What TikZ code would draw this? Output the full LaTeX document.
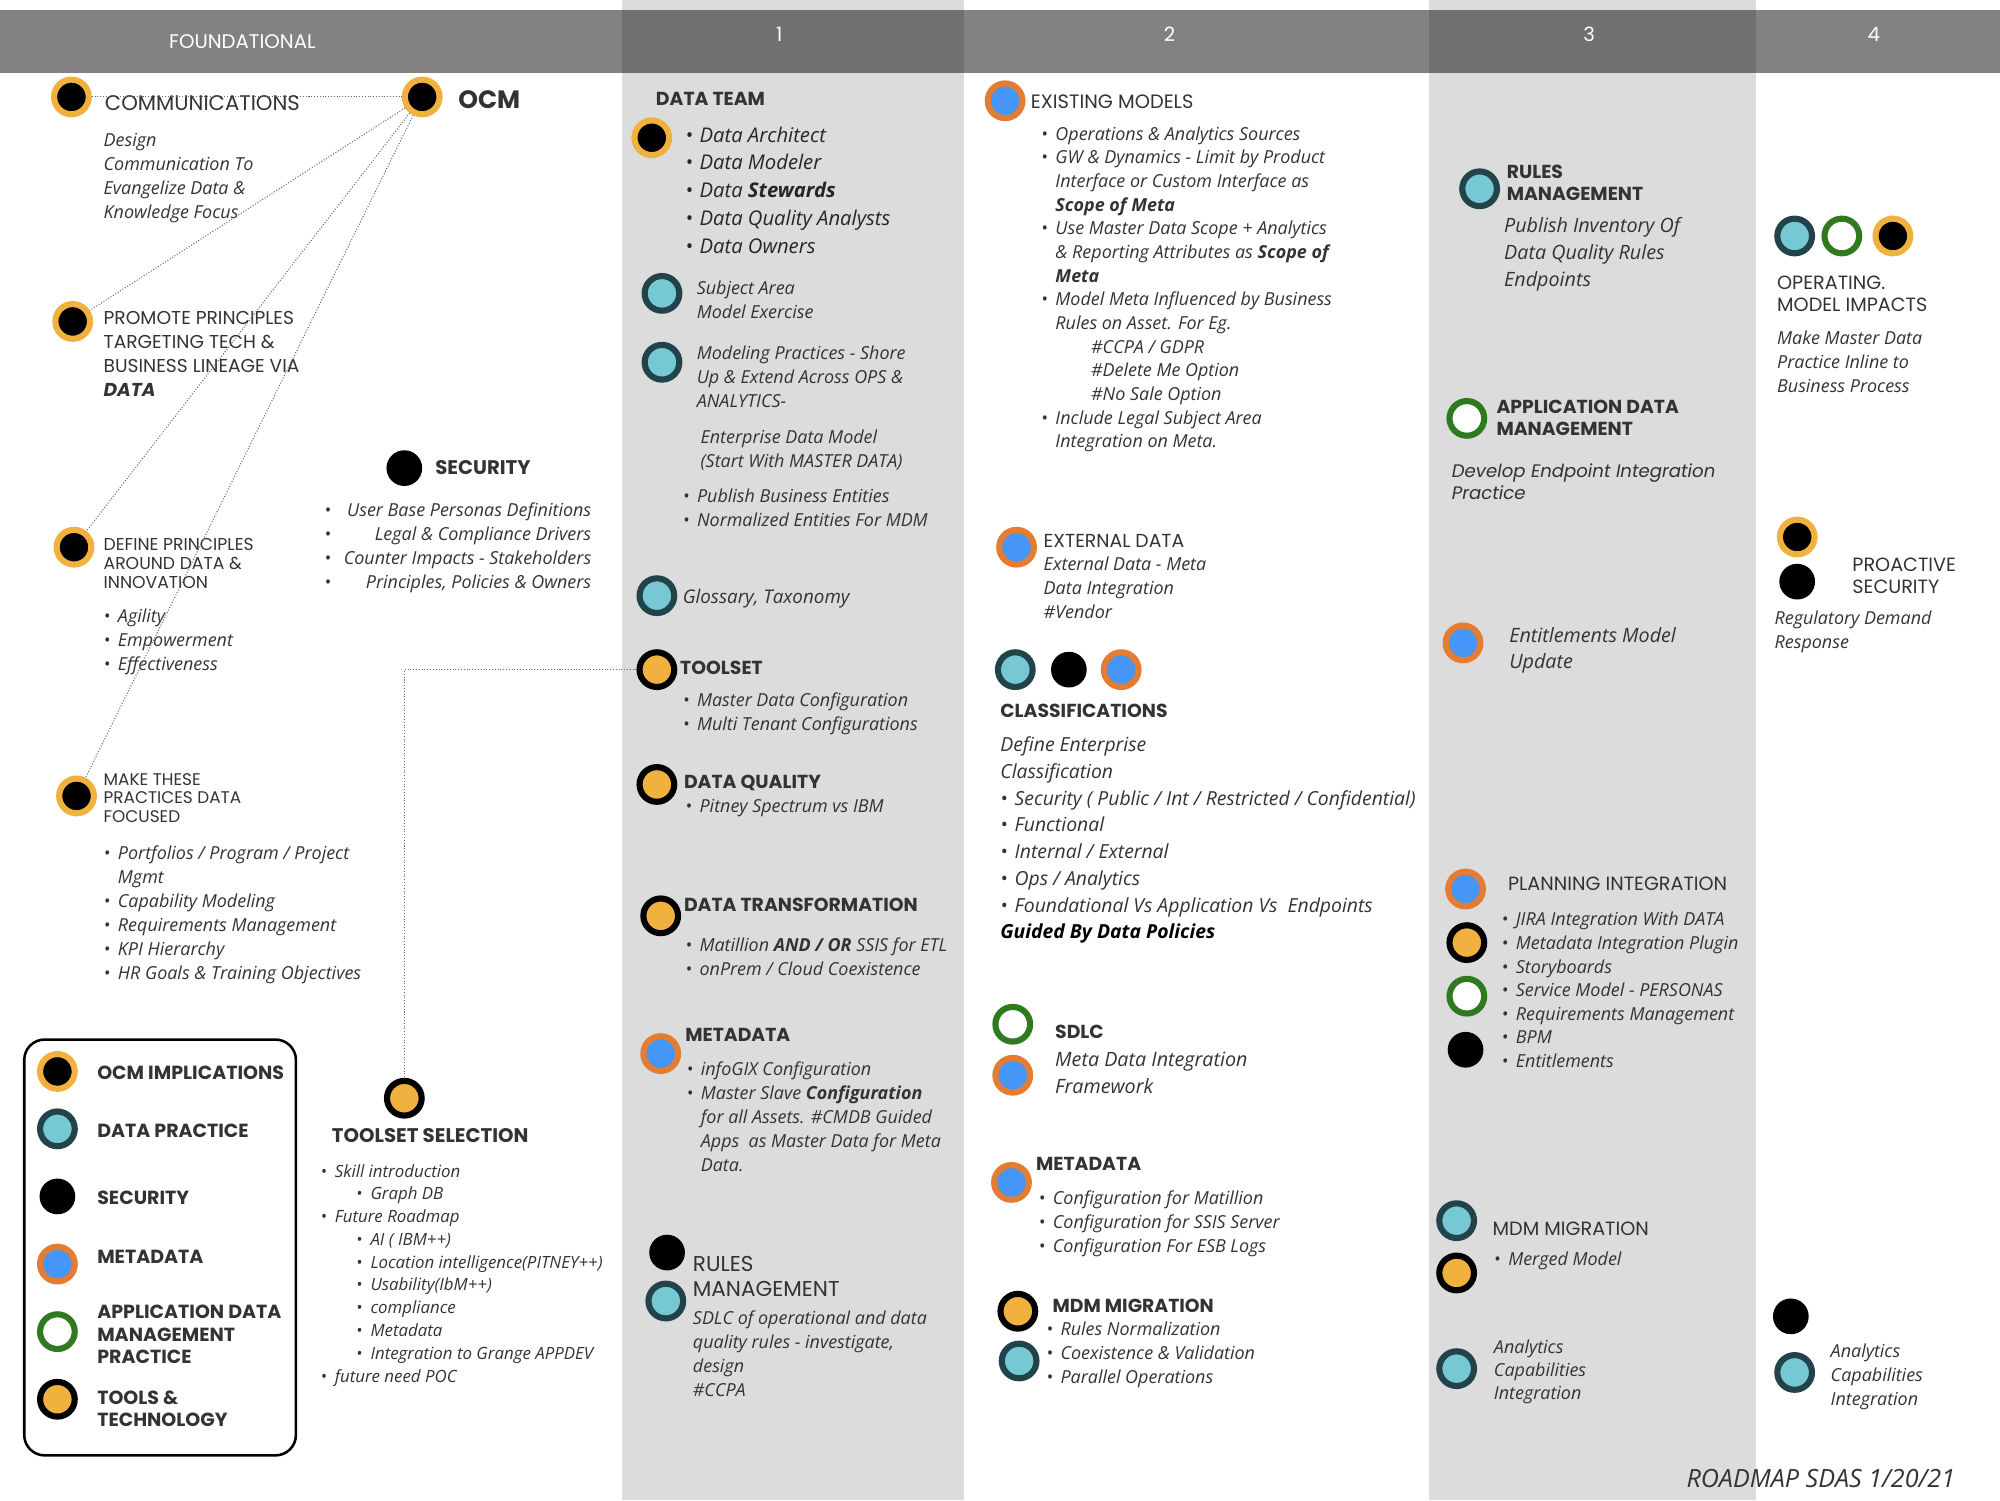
\documentclass[tikz,border=0pt]{standalone}
\usepackage{fontspec}
\setmainfont{Open Sans}
\newfontfamily\mont{Poppins}
\definecolor{txt}{HTML}{333333}
\definecolor{colbg}{HTML}{DCDCDC}
\definecolor{ocmring}{HTML}{F0B13F}
\definecolor{pracfill}{HTML}{76C8D3}
\definecolor{pracring}{HTML}{22434A}
\definecolor{metafill}{HTML}{4596F6}
\definecolor{metaring}{HTML}{E47D32}
\definecolor{appring}{HTML}{2F7A1F}
\definecolor{toolfill}{HTML}{F0B13F}
\newcommand\bul{\makebox[2.8mm][l]{\textbullet}}
\newcommand\indt{\hspace*{2.8mm}}
\begin{document}
\begin{tikzpicture}[x=0.25mm, y=-0.25mm,
  dot/.style={circle, minimum size=6.8mm, inner sep=0pt, line width=1.2mm},
  ocmdot/.style={dot, fill=black, draw=ocmring},
  pracdot/.style={dot, fill=pracfill, draw=pracring},
  secdot/.style={circle, minimum size=7mm, inner sep=0pt, fill=black},
  metadot/.style={dot, fill=metafill, draw=metaring},
  appdot/.style={dot, fill=white, draw=appring},
  tooldot/.style={dot, fill=toolfill, draw=black},
  lbl/.style={anchor=north west, inner sep=0pt, align=left, text=txt},
  cap/.style 2 args={lbl, font=\mont\fontsize{#1}{#2}\selectfont},
  capb/.style 2 args={lbl, font=\mont\bfseries\fontsize{#1}{#2}\selectfont},
  note/.style 2 args={lbl, font=\itshape\fontsize{#1}{#2}\selectfont},
  hdtxt/.style={text=white, font=\mont\fontsize{11}{12}\selectfont},
  link/.style={densely dotted, line width=0.2mm, black!60}]
\useasboundingbox (0,0) rectangle (1568,1176);

% columns and header
\fill[colbg] (488,0) rectangle (756,1176);
\fill[colbg] (1120,0) rectangle (1377,1176);
\fill[black, opacity=0.49] (0,8) rectangle (1568,57);
\node[hdtxt] (hfound) at (190,33) {FOUNDATIONAL};
\foreach \n/\x in {1/611,2/917,3/1246,4/1469} {\node[hdtxt] (h\n) at (\x,27) {\n};}

% foundational
\node[ocmdot] (comm) at (56,76) {};
\node[cap={11.8}{13}] (commt) at (82,75) {COMMUNICATIONS};
\node[ocmdot] (ocm) at (331,76) {};
\node[capb={14}{16}] (ocmt) at (359,71) {OCM};
\node[note={10}{13.4}] (commn) at (81,104) {Design\\Communication To\\Evangelize Data \&\\Knowledge Focus};

\node[ocmdot] (promote) at (57,252) {};
\node[cap={10.4}{13.4}] (promotet) at (81,244) {PROMOTE PRINCIPLES\\TARGETING TECH \&\\BUSINESS LINEAGE VIA\\{\bfseries\itshape DATA}};

\node[ocmdot] (define) at (58,429) {};
\node[cap={9.6}{10.4}] (definet) at (81,422) {DEFINE PRINCIPLES\\AROUND DATA \&\\INNOVATION};
\node[note={10}{13.4}] (definen) at (81,477) {\bul Agility\\\bul Empowerment\\\bul Effectiveness};

\node[ocmdot] (make) at (60,624) {};
\node[cap={9.4}{10.4}] (maket) at (81,606) {MAKE THESE\\PRACTICES DATA\\FOCUSED};
\node[note={10}{13.4}] (maken) at (81,663) {\bul Portfolios / Program / Project\\\indt Mgmt\\\bul Capability Modeling\\\bul Requirements Management\\\bul KPI Hierarchy\\\bul HR Goals \& Training Objectives};

\draw[link] (comm) -- (ocm);
\draw[link] (ocm) -- (promote);
\draw[link] (ocm) -- (define);
\draw[link] (ocm) -- (make);

\node[secdot] (sec) at (317,367) {};
\node[capb={11}{13}] (sect) at (341,360.5) {SECURITY};
\node[note={10}{13.4}] (secn) at (254,391.5) {\begin{tabular}{@{}l@{\hspace{2.5mm}}r@{}}
\textbullet & User Base Personas Definitions\\
\textbullet & Legal \& Compliance Drivers\\
\textbullet & Counter Impacts - Stakeholders\\
\textbullet & Principles, Policies \& Owners\end{tabular}};

% legend
\draw[line width=0.5mm, rounded corners=4mm] (19,815) rectangle (232,1141);
\foreach \s/\y/\t/\ty in {ocmdot/840/OCM IMPLICATIONS/841, pracdot/885/DATA PRACTICE/886,
    secdot/938/SECURITY/939, metadot/991/METADATA/985,
    appdot/1044/APPLICATION DATA\\MANAGEMENT\\PRACTICE/1028, tooldot/1097/TOOLS \&\\TECHNOLOGY/1095}
  {\node[\s] (leg\y) at (45,\y) {};
   \node[capb={10.6}{12.6}] (legt\y) at (76,\ty-5.2) {\t};}

\node[tooldot] (tsel) at (317,861) {};
\node[capb={11}{13}] (tselt) at (260,884.5) {TOOLSET SELECTION};
\node[note={9.4}{12.7}] (tseln) at (251,912.5) {\bul Skill introduction\\\hspace*{7mm}\bul Graph DB\\\bul Future Roadmap\\
\hspace*{7mm}\bul AI ( IBM++)\\\hspace*{7mm}\bul Location intelligence(PITNEY++)\\\hspace*{7mm}\bul Usability(IbM++)\\
\hspace*{7mm}\bul compliance\\\hspace*{7mm}\bul Metadata\\\hspace*{7mm}\bul Integration to Grange APPDEV\\\bul future need POC};

% column 1
\node[capb={10.5}{12.5}] (teamt) at (514,72) {DATA TEAM};
\node[ocmdot] (team) at (511,108) {};
\node[note={11.3}{15.5}, text=black!85] (teamn) at (537,99) {\bul Data Architect\\\bul Data Modeler\\\bul Data \textbf{Stewards}\\\bul Data Quality Analysts\\\bul Data Owners};
\node[pracdot] (subj) at (519,230) {};
\node[note={10}{13.4}] (subjn) at (546,220) {Subject Area\\Model Exercise};
\node[pracdot] (model) at (519,284) {};
\node[note={10}{13.4}] (modeln) at (546,271) {Modeling Practices - Shore\\Up \& Extend Across OPS \&\\ANALYTICS-};
\node[note={10}{13.4}] (edm) at (549,337) {Enterprise Data Model\\(Start With MASTER DATA)};
\node[note={10}{13.4}] (publ) at (535,383) {\bul Publish Business Entities\\\bul Normalized Entities For MDM};
\node[pracdot] (gloss) at (515,467) {};
\node[note={10.5}{14}] (glossn) at (535,462) {Glossary, Taxonomy};

\node[tooldot] (ts) at (515,525) {};
\node[capb={10.5}{12.5}] (tst) at (533,518) {TOOLSET};
\node[note={10}{13.4}] (tsn) at (535,543) {\bul Master Data Configuration\\\bul Multi Tenant Configurations};
\node[tooldot] (dq) at (515,615) {};
\node[capb={10.5}{12.5}] (dqt) at (536,607) {DATA QUALITY};
\node[note={10}{13.4}] (dqn) at (537,626) {\bul Pitney Spectrum vs IBM};
\node[tooldot] (dt) at (518,718) {};
\node[capb={10.5}{12.5}] (dtt) at (536,704) {DATA TRANSFORMATION};
\node[note={10}{13.4}] (dtn) at (537,735) {\bul Matillion \textbf{AND / OR} SSIS for ETL\\\bul onPrem / Cloud Coexistence};
\node[metadot] (md1) at (518,826) {};
\node[capb={10.5}{12.5}] (md1t) at (537,806) {METADATA};
\node[note={10}{13.4}] (md1n) at (538,832) {\bul infoGIX Configuration\\\bul Master Slave \textbf{Configuration}\\\indt for all Assets. \#CMDB Guided\\\indt Apps\ \ as Master Data for Meta\\\indt Data.};
\node[secdot] (rm1a) at (523,982) {};
\node[pracdot] (rm1b) at (522,1020) {};
\node[cap={12}{13.5}] (rm1t) at (543,985) {RULES\\MANAGEMENT};
\node[note={10}{13.4}] (rm1n) at (543,1027) {SDLC of operational and data\\quality rules - investigate,\\design\\\#CCPA};

\draw[link] (ts) -| (tsel);

% column 2
\node[metadot] (exm) at (788,79) {};
\node[cap={10.8}{12.5}] (exmt) at (808,74) {EXISTING MODELS};
\node[note={10}{13.2}] (exmn) at (816,99) {\bul Operations \& Analytics Sources\\
\bul GW \& Dynamics - Limit by Product\\\indt Interface or Custom Interface as\\\indt \textbf{Scope of Meta}\\
\bul Use Master Data Scope + Analytics\\\indt \& Reporting Attributes as \textbf{Scope of}\\\indt \textbf{Meta}\\
\bul Model Meta Influenced by Business\\\indt Rules on Asset. For Eg.\\
\indt\hspace*{7mm}\#CCPA / GDPR\\\indt\hspace*{7mm}\#Delete Me Option\\\indt\hspace*{7mm}\#No Sale Option\\
\bul Include Legal Subject Area\\\indt Integration on Meta.};
\node[metadot] (ext) at (797,429) {};
\node[cap={10.5}{12.5}] (extt) at (818,419) {EXTERNAL DATA};
\node[note={10}{13.4}] (extn) at (818,436) {External Data - Meta\\Data Integration\\\#Vendor};

\node[pracdot] (cl1) at (796,525) {};
\node[secdot] (cl2) at (838,525) {};
\node[metadot] (cl3) at (879,525) {};
\node[capb={10.5}{12.5}] (clt) at (784,552) {CLASSIFICATIONS};
\node[note={10.8}{14.9}] (cln) at (784,577.5) {Define Enterprise\\Classification\\
\bul Security ( Public / Int / Restricted / Confidential)\\\bul Functional\\\bul Internal / External\\
\bul Ops / Analytics\\\bul Foundational Vs Application Vs\ \ Endpoints\\{\bfseries\color{black}Guided By Data Policies}};

\node[appdot] (sdlc1) at (794,803) {};
\node[metadot] (sdlc2) at (794,843) {};
\node[capb={10.5}{12.5}] (sdlct) at (827,803) {SDLC};
\node[note={11}{14.9}] (sdlcn) at (827,824.5) {Meta Data Integration\\Framework};
\node[metadot] (md2) at (793,927) {};
\node[capb={10.5}{12.5}] (md2t) at (812,907) {METADATA};
\node[note={10}{13.4}] (md2n) at (814,933) {\bul Configuration for Matillion\\\bul Configuration for SSIS Server\\\bul Configuration For ESB Logs};
\node[tooldot] (mdm1a) at (798,1028) {};
\node[pracdot] (mdm1b) at (799,1067) {};
\node[capb={10.5}{12.5}] (mdm1t) at (825,1018) {MDM MIGRATION};
\node[note={10}{13.4}] (mdm1n) at (820,1036) {\bul Rules Normalization\\\bul Coexistence \& Validation\\\bul Parallel Operations};

% column 3
\node[pracdot] (rm2) at (1160,148) {};
\node[capb={10.5}{12.6}] (rm2t) at (1181,129) {RULES\\MANAGEMENT};
\node[note={11}{14.9}] (rm2n) at (1179,170.5) {Publish Inventory Of\\Data Quality Rules\\Endpoints};
\node[appdot] (adm) at (1150,328) {};
\node[capb={10.5}{12.6}] (admt) at (1173,313) {APPLICATION DATA\\MANAGEMENT};
\node[lbl, font=\mont\itshape\fontsize{10.1}{12.2}\selectfont] (admn) at (1138,363.5) {Develop Endpoint Integration\\Practice};
\node[metadot] (ent) at (1147,504) {};
\node[note={11}{14.9}] (entn) at (1183,491.5) {Entitlements Model\\Update};
\node[metadot] (pl1) at (1149,697) {};
\node[tooldot] (pl2) at (1150,739) {};
\node[appdot] (pl3) at (1150,781) {};
\node[secdot] (pl4) at (1149,823) {};
\node[cap={10.7}{12.5}] (plt) at (1182,687) {PLANNING INTEGRATION};
\node[note={10}{13.15}] (pln) at (1177,715) {\bul JIRA Integration With DATA\\\bul Metadata Integration Plugin\\\bul Storyboards\\
\bul Service Model - PERSONAS\\\bul Requirements Management\\\bul BPM\\\bul Entitlements};
\node[pracdot] (mdm2a) at (1142,957) {};
\node[tooldot] (mdm2b) at (1142,998) {};
\node[cap={10.7}{12.5}] (mdm2t) at (1170,958) {MDM MIGRATION};
\node[note={10}{13.4}] (mdm2n) at (1171,981) {\bul Merged Model};
\node[pracdot] (ac1) at (1142,1073) {};
\node[note={10}{13}] (ac1n) at (1171,1050) {Analytics\\Capabilities\\Integration};

% column 4
\node[pracdot] (op1) at (1407,185) {};
\node[appdot] (op2) at (1444,185) {};
\node[ocmdot] (op3) at (1484,185) {};
\node[cap={10.7}{12.2}] (opt) at (1393,216) {OPERATING.\\MODEL IMPACTS};
\node[note={10}{13.4}] (opn) at (1393,259) {Make Master Data\\Practice Inline to\\Business Process};
\node[ocmdot] (ps1) at (1409,421) {};
\node[secdot] (ps2) at (1409,456) {};
\node[cap={10.7}{12.5}] (pst) at (1452,437) {PROACTIVE\\SECURITY};
\node[note={10}{13.4}] (psn) at (1391,479) {Regulatory Demand\\Response};
\node[secdot] (ac2a) at (1404,1032) {};
\node[pracdot] (ac2b) at (1407,1076) {};
\node[note={10}{13.4}] (ac2n) at (1435,1053) {Analytics\\Capabilities\\Integration};

\node[note={14}{16}, anchor=east] (stamp) at (1533,1159) {ROADMAP SDAS 1/20/21};
\end{tikzpicture}
\end{document}
